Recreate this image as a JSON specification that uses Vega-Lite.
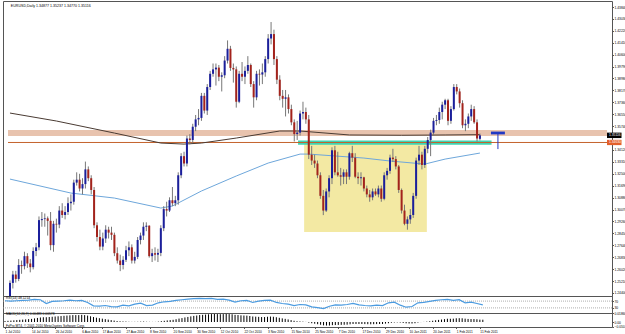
{
"$schema": "https://vega.github.io/schema/vega-lite/v6.json",
"background": "white",
"padding": {"left": 2, "top": 0, "right": 0, "bottom": 0},
"spacing": 0,
"bounds": "flush",
"config": {"view": {"stroke": "#555", "strokeWidth": 1}, "font": "Liberation Sans", "concat": {"spacing": 0},
 "axis": {"grid": false, "domain": false, "labelFontSize": 3.3, "labelColor": "#000000", "tickSize": 1.5, "tickColor": "#555555", "labelPadding": 0.5, "labelOverlap": false, "labelFlush": false}},
"datasets": {
"candles": [
{"i":0,"o":1.2230,"h":1.2525,"l":1.2200,"c":1.2508},
{"i":1,"o":1.2508,"h":1.2590,"l":1.2470,"c":1.2565},
{"i":2,"o":1.2565,"h":1.2590,"l":1.2510,"c":1.2535},
{"i":3,"o":1.2535,"h":1.2670,"l":1.2520,"c":1.2630},
{"i":4,"o":1.2630,"h":1.2660,"l":1.2570,"c":1.2622},
{"i":5,"o":1.2622,"h":1.2720,"l":1.2600,"c":1.2690},
{"i":6,"o":1.2690,"h":1.2710,"l":1.2610,"c":1.2640},
{"i":7,"o":1.2640,"h":1.2670,"l":1.2580,"c":1.2615},
{"i":8,"o":1.2615,"h":1.2750,"l":1.2600,"c":1.2725},
{"i":9,"o":1.2725,"h":1.2780,"l":1.2690,"c":1.2750},
{"i":10,"o":1.2750,"h":1.2960,"l":1.2730,"c":1.2935},
{"i":11,"o":1.2935,"h":1.2990,"l":1.2890,"c":1.2942},
{"i":12,"o":1.2942,"h":1.2980,"l":1.2890,"c":1.2947},
{"i":13,"o":1.2947,"h":1.2960,"l":1.2830,"c":1.2930},
{"i":14,"o":1.2930,"h":1.2990,"l":1.2730,"c":1.2765},
{"i":15,"o":1.2765,"h":1.2930,"l":1.2720,"c":1.2910},
{"i":16,"o":1.2910,"h":1.2945,"l":1.2850,"c":1.2905},
{"i":17,"o":1.2905,"h":1.3030,"l":1.2880,"c":1.3000},
{"i":18,"o":1.3000,"h":1.3050,"l":1.2950,"c":1.2970},
{"i":19,"o":1.2970,"h":1.3030,"l":1.2940,"c":1.2990},
{"i":20,"o":1.2990,"h":1.3090,"l":1.2970,"c":1.3050},
{"i":21,"o":1.3050,"h":1.3110,"l":1.3000,"c":1.3060},
{"i":22,"o":1.3060,"h":1.3210,"l":1.3040,"c":1.3190},
{"i":23,"o":1.3190,"h":1.3260,"l":1.3170,"c":1.3210},
{"i":24,"o":1.3210,"h":1.3250,"l":1.3130,"c":1.3150},
{"i":25,"o":1.3150,"h":1.3220,"l":1.3110,"c":1.3180},
{"i":26,"o":1.3180,"h":1.3333,"l":1.3150,"c":1.3280},
{"i":27,"o":1.3280,"h":1.3300,"l":1.3200,"c":1.3220},
{"i":28,"o":1.3220,"h":1.3240,"l":1.3110,"c":1.3140},
{"i":29,"o":1.3140,"h":1.3160,"l":1.2880,"c":1.2900},
{"i":30,"o":1.2900,"h":1.2920,"l":1.2790,"c":1.2820},
{"i":31,"o":1.2820,"h":1.2870,"l":1.2730,"c":1.2755},
{"i":32,"o":1.2755,"h":1.2850,"l":1.2730,"c":1.2810},
{"i":33,"o":1.2810,"h":1.2900,"l":1.2780,"c":1.2870},
{"i":34,"o":1.2870,"h":1.2890,"l":1.2810,"c":1.2850},
{"i":35,"o":1.2850,"h":1.2890,"l":1.2800,"c":1.2835},
{"i":36,"o":1.2835,"h":1.2850,"l":1.2690,"c":1.2710},
{"i":37,"o":1.2710,"h":1.2750,"l":1.2640,"c":1.2660},
{"i":38,"o":1.2660,"h":1.2700,"l":1.2588,"c":1.2630},
{"i":39,"o":1.2630,"h":1.2690,"l":1.2600,"c":1.2665},
{"i":40,"o":1.2665,"h":1.2760,"l":1.2650,"c":1.2730},
{"i":41,"o":1.2730,"h":1.2790,"l":1.2690,"c":1.2750},
{"i":42,"o":1.2750,"h":1.2770,"l":1.2640,"c":1.2660},
{"i":43,"o":1.2660,"h":1.2720,"l":1.2640,"c":1.2685},
{"i":44,"o":1.2685,"h":1.2820,"l":1.2670,"c":1.2800},
{"i":45,"o":1.2800,"h":1.2850,"l":1.2770,"c":1.2830},
{"i":46,"o":1.2830,"h":1.2920,"l":1.2800,"c":1.2890},
{"i":47,"o":1.2890,"h":1.2920,"l":1.2860,"c":1.2897},
{"i":48,"o":1.2897,"h":1.2900,"l":1.2680,"c":1.2690},
{"i":49,"o":1.2690,"h":1.2740,"l":1.2650,"c":1.2710},
{"i":50,"o":1.2710,"h":1.2750,"l":1.2660,"c":1.2700},
{"i":51,"o":1.2700,"h":1.2740,"l":1.2650,"c":1.2712},
{"i":52,"o":1.2712,"h":1.2900,"l":1.2690,"c":1.2880},
{"i":53,"o":1.2880,"h":1.3030,"l":1.2860,"c":1.3010},
{"i":54,"o":1.3010,"h":1.3060,"l":1.2960,"c":1.3000},
{"i":55,"o":1.3000,"h":1.3090,"l":1.2990,"c":1.3070},
{"i":56,"o":1.3070,"h":1.3160,"l":1.3030,"c":1.3050},
{"i":57,"o":1.3050,"h":1.3100,"l":1.3030,"c":1.3070},
{"i":58,"o":1.3070,"h":1.3260,"l":1.3040,"c":1.3240},
{"i":59,"o":1.3240,"h":1.3390,"l":1.3220,"c":1.3370},
{"i":60,"o":1.3370,"h":1.3400,"l":1.3300,"c":1.3320},
{"i":61,"o":1.3320,"h":1.3510,"l":1.3300,"c":1.3490},
{"i":62,"o":1.3490,"h":1.3520,"l":1.3450,"c":1.3480},
{"i":63,"o":1.3480,"h":1.3590,"l":1.3460,"c":1.3570},
{"i":64,"o":1.3570,"h":1.3650,"l":1.3540,"c":1.3620},
{"i":65,"o":1.3620,"h":1.3690,"l":1.3580,"c":1.3630},
{"i":66,"o":1.3630,"h":1.3800,"l":1.3610,"c":1.3780},
{"i":67,"o":1.3780,"h":1.3800,"l":1.3660,"c":1.3680},
{"i":68,"o":1.3680,"h":1.3860,"l":1.3650,"c":1.3840},
{"i":69,"o":1.3840,"h":1.3950,"l":1.3820,"c":1.3930},
{"i":70,"o":1.3930,"h":1.4000,"l":1.3910,"c":1.3960},
{"i":71,"o":1.3960,"h":1.4000,"l":1.3850,"c":1.3972},
{"i":72,"o":1.3972,"h":1.3990,"l":1.3880,"c":1.3910},
{"i":73,"o":1.3910,"h":1.3940,"l":1.3810,"c":1.3920},
{"i":74,"o":1.3920,"h":1.4050,"l":1.3900,"c":1.4020},
{"i":75,"o":1.4020,"h":1.4157,"l":1.4000,"c":1.4100},
{"i":76,"o":1.4100,"h":1.4120,"l":1.3950,"c":1.3970},
{"i":77,"o":1.3970,"h":1.4000,"l":1.3870,"c":1.3960},
{"i":78,"o":1.3960,"h":1.3980,"l":1.3700,"c":1.3740},
{"i":79,"o":1.3740,"h":1.3950,"l":1.3730,"c":1.3930},
{"i":80,"o":1.3930,"h":1.4010,"l":1.3880,"c":1.3910},
{"i":81,"o":1.3910,"h":1.3980,"l":1.3860,"c":1.3950},
{"i":82,"o":1.3950,"h":1.4050,"l":1.3930,"c":1.3990},
{"i":83,"o":1.3990,"h":1.4000,"l":1.3840,"c":1.3860},
{"i":84,"o":1.3860,"h":1.3880,"l":1.3700,"c":1.3770},
{"i":85,"o":1.3770,"h":1.3950,"l":1.3750,"c":1.3930},
{"i":86,"o":1.3930,"h":1.3960,"l":1.3850,"c":1.3925},
{"i":87,"o":1.3925,"h":1.4000,"l":1.3860,"c":1.3940},
{"i":88,"o":1.3940,"h":1.4050,"l":1.3910,"c":1.4030},
{"i":89,"o":1.4030,"h":1.4200,"l":1.4000,"c":1.4170},
{"i":90,"o":1.4170,"h":1.4282,"l":1.4130,"c":1.4200},
{"i":91,"o":1.4200,"h":1.4230,"l":1.3990,"c":1.4030},
{"i":92,"o":1.4030,"h":1.4050,"l":1.3860,"c":1.3890},
{"i":93,"o":1.3890,"h":1.3920,"l":1.3750,"c":1.3780},
{"i":94,"o":1.3780,"h":1.3820,"l":1.3700,"c":1.3760},
{"i":95,"o":1.3760,"h":1.3820,"l":1.3640,"c":1.3770},
{"i":96,"o":1.3770,"h":1.3790,"l":1.3660,"c":1.3690},
{"i":97,"o":1.3690,"h":1.3720,"l":1.3580,"c":1.3600},
{"i":98,"o":1.3600,"h":1.3620,"l":1.3470,"c":1.3520},
{"i":99,"o":1.3520,"h":1.3610,"l":1.3480,"c":1.3530},
{"i":100,"o":1.3530,"h":1.3680,"l":1.3510,"c":1.3660},
{"i":101,"o":1.3660,"h":1.3740,"l":1.3620,"c":1.3670},
{"i":102,"o":1.3670,"h":1.3700,"l":1.3590,"c":1.3620},
{"i":103,"o":1.3620,"h":1.3650,"l":1.3350,"c":1.3380},
{"i":104,"o":1.3380,"h":1.3440,"l":1.3310,"c":1.3340},
{"i":105,"o":1.3340,"h":1.3380,"l":1.3290,"c":1.3320},
{"i":106,"o":1.3320,"h":1.3340,"l":1.3220,"c":1.3240},
{"i":107,"o":1.3240,"h":1.3260,"l":1.3080,"c":1.3100},
{"i":108,"o":1.3100,"h":1.3140,"l":1.2969,"c":1.3000},
{"i":109,"o":1.3000,"h":1.3150,"l":1.2990,"c":1.3130},
{"i":110,"o":1.3130,"h":1.3240,"l":1.3090,"c":1.3220},
{"i":111,"o":1.3220,"h":1.3430,"l":1.3180,"c":1.3410},
{"i":112,"o":1.3410,"h":1.3440,"l":1.3240,"c":1.3260},
{"i":113,"o":1.3260,"h":1.3400,"l":1.3230,"c":1.3240},
{"i":114,"o":1.3240,"h":1.3290,"l":1.3170,"c":1.3230},
{"i":115,"o":1.3230,"h":1.3280,"l":1.3180,"c":1.3260},
{"i":116,"o":1.3260,"h":1.3280,"l":1.3180,"c":1.3230},
{"i":117,"o":1.3230,"h":1.3400,"l":1.3210,"c":1.3390},
{"i":118,"o":1.3390,"h":1.3440,"l":1.3330,"c":1.3360},
{"i":119,"o":1.3360,"h":1.3390,"l":1.3220,"c":1.3230},
{"i":120,"o":1.3230,"h":1.3260,"l":1.3180,"c":1.3220},
{"i":121,"o":1.3220,"h":1.3260,"l":1.3170,"c":1.3226},
{"i":122,"o":1.3226,"h":1.3230,"l":1.3130,"c":1.3150},
{"i":123,"o":1.3150,"h":1.3170,"l":1.3090,"c":1.3110},
{"i":124,"o":1.3110,"h":1.3140,"l":1.3060,"c":1.3090},
{"i":125,"o":1.3090,"h":1.3150,"l":1.3070,"c":1.3130},
{"i":126,"o":1.3130,"h":1.3150,"l":1.3100,"c":1.3110},
{"i":127,"o":1.3110,"h":1.3170,"l":1.3090,"c":1.3150},
{"i":128,"o":1.3150,"h":1.3170,"l":1.3060,"c":1.3080},
{"i":129,"o":1.3080,"h":1.3260,"l":1.3070,"c":1.3240},
{"i":130,"o":1.3240,"h":1.3290,"l":1.3210,"c":1.3270},
{"i":131,"o":1.3270,"h":1.3380,"l":1.3250,"c":1.3360},
{"i":132,"o":1.3360,"h":1.3420,"l":1.3330,"c":1.3350},
{"i":133,"o":1.3350,"h":1.3370,"l":1.3280,"c":1.3300},
{"i":134,"o":1.3300,"h":1.3310,"l":1.3120,"c":1.3140},
{"i":135,"o":1.3140,"h":1.3150,"l":1.2980,"c":1.3000},
{"i":136,"o":1.3000,"h":1.3040,"l":1.2900,"c":1.2910},
{"i":137,"o":1.2910,"h":1.2960,"l":1.2870,"c":1.2940},
{"i":138,"o":1.2940,"h":1.3010,"l":1.2910,"c":1.2970},
{"i":139,"o":1.2970,"h":1.3120,"l":1.2950,"c":1.3100},
{"i":140,"o":1.3100,"h":1.3360,"l":1.3080,"c":1.3340},
{"i":141,"o":1.3340,"h":1.3440,"l":1.3310,"c":1.3380},
{"i":142,"o":1.3380,"h":1.3400,"l":1.3280,"c":1.3310},
{"i":143,"o":1.3310,"h":1.3440,"l":1.3290,"c":1.3420},
{"i":144,"o":1.3420,"h":1.3500,"l":1.3390,"c":1.3480},
{"i":145,"o":1.3480,"h":1.3550,"l":1.3370,"c":1.3530},
{"i":146,"o":1.3530,"h":1.3630,"l":1.3510,"c":1.3610},
{"i":147,"o":1.3610,"h":1.3650,"l":1.3580,"c":1.3616},
{"i":148,"o":1.3616,"h":1.3700,"l":1.3590,"c":1.3670},
{"i":149,"o":1.3670,"h":1.3740,"l":1.3620,"c":1.3720},
{"i":150,"o":1.3720,"h":1.3760,"l":1.3690,"c":1.3750},
{"i":151,"o":1.3750,"h":1.3760,"l":1.3580,"c":1.3610},
{"i":152,"o":1.3610,"h":1.3710,"l":1.3590,"c":1.3690},
{"i":153,"o":1.3690,"h":1.3860,"l":1.3680,"c":1.3840},
{"i":154,"o":1.3840,"h":1.3860,"l":1.3790,"c":1.3810},
{"i":155,"o":1.3810,"h":1.3830,"l":1.3700,"c":1.3730},
{"i":156,"o":1.3730,"h":1.3750,"l":1.3560,"c":1.3580},
{"i":157,"o":1.3580,"h":1.3620,"l":1.3540,"c":1.3590},
{"i":158,"o":1.3590,"h":1.3660,"l":1.3560,"c":1.3640},
{"i":159,"o":1.3640,"h":1.3720,"l":1.3610,"c":1.3690},
{"i":160,"o":1.3690,"h":1.3710,"l":1.3590,"c":1.3600},
{"i":161,"o":1.3600,"h":1.3620,"l":1.3470,"c":1.3490},
{"i":162,"o":1.34877,"h":1.35237,"l":1.34770,"c":1.35116}
],
"maDark": [
{"i":0,"p":1.3663},{"i":16,"p":1.3609},{"i":36,"p":1.3527},{"i":52,"p":1.3459},{"i":60,"p":1.3452},{"i":66,"p":1.3459},{"i":78,"p":1.3493},{"i":93,"p":1.3541},{"i":100,"p":1.3541},{"i":117,"p":1.3514},{"i":135,"p":1.3512},{"i":150,"p":1.3514},{"i":162,"p":1.3516}
],
"maBlue": [
{"i":0,"p":1.3214},{"i":21,"p":1.3119},{"i":36,"p":1.3085},{"i":52,"p":1.3017},{"i":56,"p":1.3031},{"i":66,"p":1.3133},{"i":78,"p":1.3235},{"i":89,"p":1.3323},{"i":100,"p":1.3384},{"i":103,"p":1.3384},{"i":122,"p":1.3357},{"i":131,"p":1.3337},{"i":143,"p":1.3316},{"i":150,"p":1.3350},{"i":162,"p":1.3391}
],
"yellowBox": [{"i":101.4,"i2":143.7,"p":1.3473,"p2":1.2854}],
"beigeBand": [{"i":-0.68,"i2":205.8,"p":1.3548,"p2":1.3507}],
"tealBand": [{"i":99.3,"i2":166,"p":1.3476,"p2":1.3448}],
"orangeLine": [{"i":-0.68,"i2":205.8,"p":1.3463}],
"crossBar": [{"i":165.8,"i2":170.6,"p":1.3537,"p2":1.3518}],
"crossLine": [{"i":168.2,"p":1.3527,"p2":1.3418}],
"bidBox": [{"i":205.8,"i2":210.8,"p":1.3530,"p2":1.3493}],
"lineBox": [{"i":205.8,"i2":210.8,"p":1.3481,"p2":1.3445}],
"bidText": [{"i":205.8,"p":1.35116,"t":"1.35116"}],
"lineText": [{"i":205.8,"p":1.3463,"t":"1.34630"}],
"mainTitle": [{"i":0.3,"p":1.4392,"t":"EURUSD,Daily  1.34877 1.35237 1.34770 1.35116"}],
"rsi": [
{"i":0,"r":72},{"i":2,"r":70},{"i":4,"r":72},{"i":6,"r":74},{"i":8,"r":76},{"i":10,"r":80},{"i":12,"r":78},{"i":14,"r":56},{"i":16,"r":68},{"i":18,"r":70},{"i":20,"r":72},{"i":22,"r":76},{"i":24,"r":72},{"i":26,"r":74},{"i":28,"r":62},{"i":30,"r":42},{"i":32,"r":40},{"i":34,"r":44},{"i":36,"r":38},{"i":38,"r":36},{"i":40,"r":46},{"i":42,"r":42},{"i":44,"r":52},{"i":46,"r":58},{"i":48,"r":44},{"i":50,"r":46},{"i":52,"r":60},{"i":54,"r":66},{"i":56,"r":68},{"i":58,"r":74},{"i":60,"r":78},{"i":62,"r":82},{"i":64,"r":84},{"i":66,"r":86},{"i":68,"r":84},{"i":70,"r":86},{"i":72,"r":80},{"i":74,"r":82},{"i":76,"r":76},{"i":78,"r":64},{"i":80,"r":72},{"i":82,"r":74},{"i":84,"r":62},{"i":86,"r":70},{"i":88,"r":74},{"i":90,"r":76},{"i":92,"r":62},{"i":94,"r":56},{"i":96,"r":52},{"i":98,"r":44},{"i":100,"r":50},{"i":102,"r":48},{"i":104,"r":36},{"i":106,"r":32},{"i":108,"r":26},{"i":110,"r":40},{"i":112,"r":48},{"i":114,"r":46},{"i":116,"r":50},{"i":118,"r":56},{"i":120,"r":48},{"i":122,"r":44},{"i":124,"r":42},{"i":126,"r":46},{"i":128,"r":44},{"i":130,"r":60},{"i":132,"r":64},{"i":134,"r":46},{"i":136,"r":34},{"i":138,"r":38},{"i":140,"r":60},{"i":142,"r":62},{"i":144,"r":68},{"i":146,"r":74},{"i":148,"r":78},{"i":150,"r":80},{"i":152,"r":74},{"i":154,"r":78},{"i":156,"r":60},{"i":158,"r":64},{"i":160,"r":56},{"i":162,"r":48}
],
"rsiLevels": [{"i":-0.68,"i2":205.8,"r":70},{"i":-0.68,"i2":205.8,"r":30}],
"rsiTitle": [{"i":0.3,"r":88,"t":"RSI(14) 48.1214"}],
"macd": [
{"i":0,"m":0.0020},{"i":1,"m":0.0025},{"i":2,"m":0.0030},{"i":3,"m":0.0035},{"i":4,"m":0.0040},{"i":5,"m":0.0045},{"i":6,"m":0.0050},{"i":7,"m":0.0055},{"i":8,"m":0.0060},{"i":9,"m":0.0065},{"i":10,"m":0.0075},{"i":11,"m":0.0085},{"i":12,"m":0.0095},{"i":13,"m":0.0100},{"i":14,"m":0.0100},{"i":15,"m":0.0105},{"i":16,"m":0.0110},{"i":17,"m":0.0115},{"i":18,"m":0.0120},{"i":19,"m":0.0125},{"i":20,"m":0.0130},{"i":21,"m":0.0135},{"i":22,"m":0.0140},{"i":23,"m":0.0145},{"i":24,"m":0.0145},{"i":25,"m":0.0145},{"i":26,"m":0.0150},{"i":27,"m":0.0145},{"i":28,"m":0.0135},{"i":29,"m":0.0120},{"i":30,"m":0.0105},{"i":31,"m":0.0090},{"i":32,"m":0.0080},{"i":33,"m":0.0070},{"i":34,"m":0.0060},{"i":35,"m":0.0050},{"i":36,"m":0.0040},{"i":37,"m":0.0030},{"i":38,"m":0.0020},{"i":39,"m":0.0015},{"i":40,"m":0.0012},{"i":41,"m":0.0010},{"i":42,"m":0.0005},{"i":43,"m":0.0003},{"i":44,"m":0.0004},{"i":45,"m":0.0005},{"i":46,"m":0.0008},{"i":47,"m":0.0010},{"i":48,"m":0.0005},{"i":49,"m":0.0003},{"i":50,"m":0.0002},{"i":51,"m":0.0002},{"i":52,"m":0.0008},{"i":53,"m":0.0018},{"i":54,"m":0.0025},{"i":55,"m":0.0033},{"i":56,"m":0.0040},{"i":57,"m":0.0046},{"i":58,"m":0.0058},{"i":59,"m":0.0072},{"i":60,"m":0.0082},{"i":61,"m":0.0096},{"i":62,"m":0.0106},{"i":63,"m":0.0118},{"i":64,"m":0.0128},{"i":65,"m":0.0136},{"i":66,"m":0.0146},{"i":67,"m":0.0150},{"i":68,"m":0.0156},{"i":69,"m":0.0162},{"i":70,"m":0.0166},{"i":71,"m":0.0168},{"i":72,"m":0.0166},{"i":73,"m":0.0164},{"i":74,"m":0.0166},{"i":75,"m":0.0170},{"i":76,"m":0.0166},{"i":77,"m":0.0162},{"i":78,"m":0.0150},{"i":79,"m":0.0146},{"i":80,"m":0.0140},{"i":81,"m":0.0136},{"i":82,"m":0.0134},{"i":83,"m":0.0126},{"i":84,"m":0.0116},{"i":85,"m":0.0112},{"i":86,"m":0.0108},{"i":87,"m":0.0104},{"i":88,"m":0.0104},{"i":89,"m":0.0110},{"i":90,"m":0.0114},{"i":91,"m":0.0110},{"i":92,"m":0.0100},{"i":93,"m":0.0088},{"i":94,"m":0.0076},{"i":95,"m":0.0066},{"i":96,"m":0.0054},{"i":97,"m":0.0040},{"i":98,"m":0.0026},{"i":99,"m":0.0016},{"i":100,"m":0.0012},{"i":101,"m":0.0008},{"i":102,"m":0.0002},{"i":103,"m":-0.0014},{"i":104,"m":-0.0026},{"i":105,"m":-0.0036},{"i":106,"m":-0.0046},{"i":107,"m":-0.0058},{"i":108,"m":-0.0070},{"i":109,"m":-0.0074},{"i":110,"m":-0.0074},{"i":111,"m":-0.0066},{"i":112,"m":-0.0064},{"i":113,"m":-0.0062},{"i":114,"m":-0.0060},{"i":115,"m":-0.0058},{"i":116,"m":-0.0056},{"i":117,"m":-0.0048},{"i":118,"m":-0.0042},{"i":119,"m":-0.0042},{"i":120,"m":-0.0042},{"i":121,"m":-0.0042},{"i":122,"m":-0.0044},{"i":123,"m":-0.0046},{"i":124,"m":-0.0048},{"i":125,"m":-0.0046},{"i":126,"m":-0.0044},{"i":127,"m":-0.0042},{"i":128,"m":-0.0042},{"i":129,"m":-0.0034},{"i":130,"m":-0.0026},{"i":131,"m":-0.0016},{"i":132,"m":-0.0010},{"i":133,"m":-0.0008},{"i":134,"m":-0.0012},{"i":135,"m":-0.0020},{"i":136,"m":-0.0028},{"i":137,"m":-0.0032},{"i":138,"m":-0.0032},{"i":139,"m":-0.0026},{"i":140,"m":-0.0012},{"i":141,"m":-0.0002},{"i":142,"m":0.0002},{"i":143,"m":0.0008},{"i":144,"m":0.0016},{"i":145,"m":0.0026},{"i":146,"m":0.0036},{"i":147,"m":0.0044},{"i":148,"m":0.0052},{"i":149,"m":0.0060},{"i":150,"m":0.0068},{"i":151,"m":0.0068},{"i":152,"m":0.0070},{"i":153,"m":0.0078},{"i":154,"m":0.0080},{"i":155,"m":0.0078},{"i":156,"m":0.0070},{"i":157,"m":0.0064},{"i":158,"m":0.0062},{"i":159,"m":0.0062},{"i":160,"m":0.0058},{"i":161,"m":0.0050},{"i":162,"m":0.00483}
],
"macdTexts": [{"i":0.3,"m":0.0165,"t":"MACD(12,26,9) 0.00483 0.00578"},{"i":0.3,"m":-0.0078,"t":"FxPro MT4, © 2001-2010 MetaQuotes Software Corp."}]
},
"vconcat": [
{
"width": 609, "height": 295,
"encoding": {
 "x": {"field": "i", "type": "quantitative", "scale": {"domain": [-0.68, 205.8], "nice": false, "zero": false}, "axis": null},
 "y": {"field": "p", "type": "quantitative", "title": null, "scale": {"domain": [1.2419, 1.4425], "nice": false, "zero": false},
   "axis": {"orient": "right", "values": [1.4384,1.4303,1.4222,1.4141,1.4060,1.3979,1.3898,1.3817,1.3736,1.3655,1.3574,1.3412,1.3331,1.3250,1.3169,1.3088,1.3007,1.2926,1.2845,1.2764,1.2683,1.2602,1.2521,1.2440], "format": ".5f"}}
},
"layer": [
{"data": {"name": "yellowBox"}, "mark": {"type": "rect", "color": "#f3e9a3"}, "encoding": {"x2": {"field": "i2"}, "y2": {"field": "p2"}}},
{"data": {"name": "beigeBand"}, "mark": {"type": "rect", "color": "#e8c3ae"}, "encoding": {"x2": {"field": "i2"}, "y2": {"field": "p2"}}},
{"data": {"name": "tealBand"}, "mark": {"type": "rect", "color": "#3fd4b2"}, "encoding": {"x2": {"field": "i2"}, "y2": {"field": "p2"}}},
{"data": {"name": "orangeLine"}, "mark": {"type": "rule", "color": "#c4622c", "strokeWidth": 1}, "encoding": {"x2": {"field": "i2"}}},
{"data": {"name": "maBlue"}, "mark": {"type": "line", "color": "#6ea7db", "strokeWidth": 1, "clip": true}, "encoding": {}},
{"data": {"name": "maDark"}, "mark": {"type": "line", "color": "#4a3b33", "strokeWidth": 1, "clip": true}, "encoding": {}},
{"data": {"name": "candles"}, "mark": {"type": "rule", "color": "#777777", "strokeWidth": 1, "clip": true},
 "encoding": {"y": {"field": "l", "type": "quantitative", "title": null, "scale": {"domain": [1.2419, 1.4425], "nice": false, "zero": false},
   "axis": {"orient": "right", "values": [1.4384,1.4303,1.4222,1.4141,1.4060,1.3979,1.3898,1.3817,1.3736,1.3655,1.3574,1.3412,1.3331,1.3250,1.3169,1.3088,1.3007,1.2926,1.2845,1.2764,1.2683,1.2602,1.2521,1.2440], "format": ".5f"}}, "y2": {"field": "h"}}},
{"data": {"name": "candles"}, "mark": {"type": "bar", "width": 2, "clip": true},
 "encoding": {"y": {"field": "o", "type": "quantitative", "title": null, "scale": {"domain": [1.2419, 1.4425], "nice": false, "zero": false},
   "axis": {"orient": "right", "values": [1.4384,1.4303,1.4222,1.4141,1.4060,1.3979,1.3898,1.3817,1.3736,1.3655,1.3574,1.3412,1.3331,1.3250,1.3169,1.3088,1.3007,1.2926,1.2845,1.2764,1.2683,1.2602,1.2521,1.2440], "format": ".5f"}}, "y2": {"field": "c"},
  "color": {"condition": {"test": "datum.c >= datum.o", "value": "#1b1f9c"}, "value": "#a3231c"}}},
{"data": {"name": "crossBar"}, "mark": {"type": "rect", "color": "#2238c4"}, "encoding": {"x2": {"field": "i2"}, "y2": {"field": "p2"}}},
{"data": {"name": "crossLine"}, "mark": {"type": "rule", "color": "#2238c4", "strokeWidth": 1}, "encoding": {"y2": {"field": "p2"}}},
{"data": {"name": "bidBox"}, "mark": {"type": "rect", "color": "#000000"}, "encoding": {"x2": {"field": "i2"}, "y2": {"field": "p2"}}},
{"data": {"name": "lineBox"}, "mark": {"type": "rect", "color": "#e4602a"}, "encoding": {"x2": {"field": "i2"}, "y2": {"field": "p2"}}},
{"data": {"name": "bidText"}, "mark": {"type": "text", "color": "#ffffff", "fontSize": 3.3, "align": "left", "baseline": "middle", "dx": 2}, "encoding": {"text": {"field": "t"}}},
{"data": {"name": "lineText"}, "mark": {"type": "text", "color": "#ffffff", "fontSize": 3.3, "align": "left", "baseline": "middle", "dx": 2}, "encoding": {"text": {"field": "t"}}},
{"data": {"name": "mainTitle"}, "mark": {"type": "text", "color": "#000000", "fontSize": 3.6, "align": "left", "baseline": "middle"}, "encoding": {"text": {"field": "t"}}}
]
},
{
"width": 609, "height": 17,
"encoding": {
 "x": {"field": "i", "type": "quantitative", "scale": {"domain": [-0.68, 205.8], "nice": false, "zero": false}, "axis": null},
 "y": {"field": "r", "type": "quantitative", "title": null, "scale": {"domain": [0, 100], "nice": false}, "axis": {"orient": "right", "values": [70, 30]}}
},
"layer": [
{"data": {"name": "rsiLevels"}, "mark": {"type": "rule", "color": "#9a9a9a", "strokeWidth": 0.8, "strokeDash": [1, 1]}, "encoding": {"x2": {"field": "i2"}}},
{"data": {"name": "rsi"}, "mark": {"type": "line", "color": "#4b9be0", "strokeWidth": 1.2, "clip": true}, "encoding": {}},
{"data": {"name": "rsiTitle"}, "mark": {"type": "text", "color": "#000000", "fontSize": 3.3, "align": "left", "baseline": "middle"}, "encoding": {"text": {"field": "t"}}}
]
},
{
"width": 609, "height": 14,
"encoding": {
 "x": {"field": "i", "type": "quantitative", "title": null, "scale": {"domain": [-0.68, 205.8], "nice": false, "zero": false},
   "axis": {"orient": "bottom", "values": [0,9,17,26,33,41,49,57,65,73,81,89,97,105,113,121,129,137,145,153,161],
    "labelExpr": "['1 Jul 2010','14 Jul 2010','26 Jul 2010','6 Aug 2010','17 Aug 2010','27 Aug 2010','8 Sep 2010','20 Sep 2010','30 Sep 2010','12 Oct 2010','22 Oct 2010','3 Nov 2010','15 Nov 2010','25 Nov 2010','7 Dec 2010','17 Dec 2010','29 Dec 2010','10 Jan 2011','20 Jan 2011','1 Feb 2011','11 Feb 2011'][indexof([0,9,17,26,33,41,49,57,65,73,81,89,97,105,113,121,129,137,145,153,161], datum.value)]",
    "labelAlign": "left", "labelFontSize": 3.2}},
 "y": {"field": "m", "type": "quantitative", "title": null, "scale": {"domain": [-0.0105, 0.0189], "nice": false, "zero": false},
   "axis": {"orient": "right", "values": [0.0186, 0, -0.0102], "labelExpr": "datum.value == 0 ? '0.00' : (datum.value < 0 ? format(datum.value, '.4f') : format(datum.value, '.5f'))"}}
},
"layer": [
{"data": {"name": "macd"}, "mark": {"type": "rule", "color": "#000000", "strokeWidth": 1, "clip": true}, "encoding": {"y2": {"datum": 0}}},
{"data": {"name": "macdTexts"}, "mark": {"type": "text", "color": "#000000", "fontSize": 3.3, "align": "left", "baseline": "middle"}, "encoding": {"text": {"field": "t"}}}
]
}
]
}
